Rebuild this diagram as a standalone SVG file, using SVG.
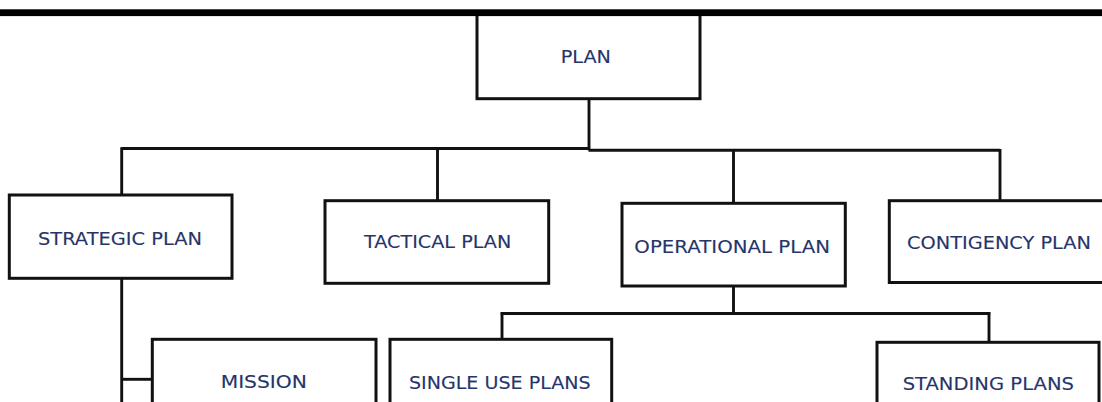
<svg xmlns="http://www.w3.org/2000/svg" width="1102" height="402" viewBox="0 0 1102 402">
<style>
.box{fill:#fff;stroke:#111;stroke-width:3}
.lbl{font-family:"DejaVu Sans",Verdana,sans-serif;font-size:18.5px;fill:#26346a;stroke:#26346a;stroke-width:0.12;text-anchor:middle}
.con{fill:none;stroke:#111;stroke-width:2.9}
</style>
<rect x="0" y="0" width="1102" height="402" fill="#fff"/>
<g id="connectors">
<path class="con" d="M589 98.7 V150.3"/>
<path class="con" d="M121.7 148.5 H589.5"/>
<path class="con" d="M588.5 150.3 H1000"/>
<path class="con" d="M121.7 147.2 V195"/>
<path class="con" d="M437.5 147.2 V200.7"/>
<path class="con" d="M733.5 149 V203.3"/>
<path class="con" d="M1000 149 V200.7"/>
<path class="con" d="M121.7 278.3 V402"/>
<path class="con" d="M121.7 379.3 H152.3"/>
<path class="con" d="M733.5 286 V313.5"/>
<path class="con" d="M500.7 313.5 H990.3"/>
<path class="con" d="M502 312.2 V339.3"/>
<path class="con" d="M989 312.2 V342.3"/>
</g>
<g id="plan">
<rect class="box" x="477" y="14" width="223" height="84.7"/>
<text class="lbl" x="585.8" y="63.3" textLength="50.3" lengthAdjust="spacingAndGlyphs">PLAN</text>
</g>
<rect id="topbar" x="0" y="9.3" width="1102" height="6.8" fill="#000"/>
<g id="strategic">
<rect class="box" x="9.3" y="195" width="222.7" height="83.3"/>
<text class="lbl" x="120" y="245" textLength="164" lengthAdjust="spacingAndGlyphs">STRATEGIC PLAN</text>
</g>
<g id="tactical">
<rect class="box" x="325" y="200.7" width="223.7" height="82.6"/>
<text class="lbl" x="437.7" y="248.3" textLength="147.3" lengthAdjust="spacingAndGlyphs">TACTICAL PLAN</text>
</g>
<g id="operational">
<rect class="box" x="622" y="203.3" width="223.3" height="82.7"/>
<text class="lbl" x="732.2" y="253" textLength="195.7" lengthAdjust="spacingAndGlyphs">OPERATIONAL PLAN</text>
</g>
<g id="contingency">
<rect class="box" x="889.3" y="200.7" width="230" height="81.8"/>
<text class="lbl" x="999" y="249" textLength="184" lengthAdjust="spacingAndGlyphs">CONTIGENCY PLAN</text>
</g>
<g id="mission">
<rect class="box" x="152.3" y="339.3" width="223.7" height="80"/>
<text class="lbl" x="263.8" y="388" textLength="86.3" lengthAdjust="spacingAndGlyphs">MISSION</text>
</g>
<g id="singleuse">
<rect class="box" x="390" y="339.3" width="221.7" height="80"/>
<text class="lbl" x="499.8" y="389.3" textLength="181.7" lengthAdjust="spacingAndGlyphs">SINGLE USE PLANS</text>
</g>
<g id="standing">
<rect class="box" x="877" y="342.3" width="222" height="80"/>
<text class="lbl" x="988.3" y="390" textLength="171.3" lengthAdjust="spacingAndGlyphs">STANDING PLANS</text>
</g>
</svg>
